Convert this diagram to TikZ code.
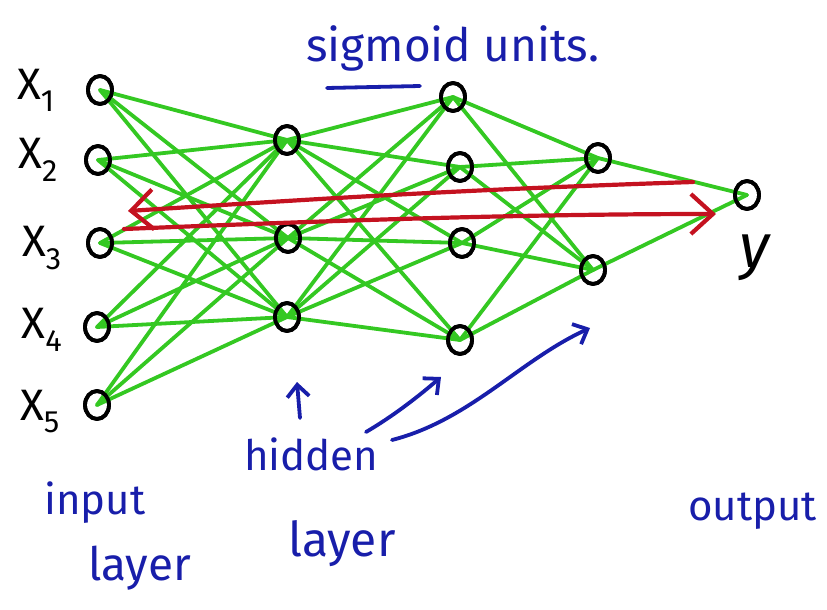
\documentclass[tikz,border=0pt]{standalone}
\usepackage{fontspec}
\setmainfont{Fira Sans}
\usetikzlibrary{arrows.meta,shapes.geometric}
\definecolor{wgreen}{RGB}{52,200,34}
\definecolor{wblue}{RGB}{24,30,170}
\definecolor{wred}{RGB}{196,18,32}
\begin{document}
\begin{tikzpicture}[x=1pt,y=-1pt,
  neuron/.style={draw=black, line width=3.8pt, ellipse, minimum width=24pt, minimum height=28pt, inner sep=0pt},
  conn/.style={draw=wgreen, line width=3.8pt, line cap=round},
  redarr/.style={draw=wred, line width=4.2pt, line cap=round, -{Straight Barb[length=22pt,width=40pt,line width=4.2pt]}},
  bluearr/.style={draw=wblue, line width=3.8pt, line cap=round, -{Straight Barb[length=12pt,width=22pt,line width=3.8pt]}},
  xlbl/.style={text=black, font=\fontsize{44}{46}\selectfont, inner sep=0pt},
  blbl/.style={text=wblue, font=\fontsize{42}{44}\selectfont, inner sep=0pt}]
\useasboundingbox (0,0) rectangle (827,610);
% nodes
\node[neuron] (i1) at (100,90) {};
\node[neuron] (i2) at (98,160) {};
\node[neuron] (i3) at (100,243) {};
\node[neuron] (i4) at (97,327) {};
\node[neuron] (i5) at (97,405) {};
\node[neuron] (a1) at (287,140) {};
\node[neuron] (a2) at (288,238) {};
\node[neuron] (a3) at (287,317) {};
\node[neuron] (b1) at (453,97) {};
\node[neuron] (b2) at (460,167) {};
\node[neuron] (b3) at (462,243) {};
\node[neuron] (b4) at (460,340) {};
\node[neuron] (c1) at (598,158) {};
\node[neuron] (c2) at (593,270) {};
\node[neuron] (o) at (747,195) {};
% connections
\foreach \s in {i1,i2,i3,i4,i5}{\foreach \t in {a1,a2,a3}{\draw[conn] (\s.center) -- (\t.center);}}
\foreach \s in {a1,a2,a3}{\foreach \t in {b1,b2,b3,b4}{\draw[conn] (\s.center) -- (\t.center);}}
\foreach \s in {b1,b2,b3,b4}{\foreach \t in {c1,c2}{\draw[conn] (\s.center) -- (\t.center);}}
\foreach \s in {c1,c2}{\draw[conn] (\s.center) -- (o.center);}
% redraw circles on top
\foreach \n in {i1,i2,i3,i4,i5,a1,a2,a3,b1,b2,b3,b4,c1,c2,o}{\draw[black,line width=3.8pt] (\n) ellipse (12pt and 14pt);}
% red arrows
\coordinate (rt1) at (693,182);
\coordinate (rt2) at (128,211);
\coordinate (rb1) at (124,229);
\coordinate (rb2) at (716,214);
\draw[redarr] (rt1) .. controls (450,190) and (300,200) .. (rt2);
\draw[redarr] (rb1) .. controls (300,222) and (500,214) .. (rb2);
% input labels
\node[xlbl] (l1) at (36,90) {X\textsubscript{1}};
\node[xlbl] (l2) at (38,160) {X\textsubscript{2}};
\node[xlbl] (l3) at (42,248) {X\textsubscript{3}};
\node[xlbl] (l4) at (42,330) {X\textsubscript{4}};
\node[xlbl] (l5) at (40,412) {X\textsubscript{5}};
\node[text=black, font=\fontsize{62}{64}\selectfont\itshape, inner sep=0pt] (yl) at (755,258) {y};
% blue text
\node[blbl, font=\fontsize{46}{48}\selectfont, anchor=base west] (sig) at (306,62) {sigmoid units.};
\coordinate (u1) at (327,88);
\coordinate (u2) at (420,86);
\draw[wblue, line width=3.8pt, line cap=round] (u1) -- (u2);
\node[blbl, anchor=base west] (hid) at (244,470) {hidden};
\node[blbl, font=\fontsize{48}{50}\selectfont, anchor=base west] (hl) at (288,556) {layer};
\node[blbl, anchor=base west] (inp) at (44,514) {input};
\node[blbl, font=\fontsize{46}{48}\selectfont, anchor=base west] (il) at (88,580) {layer};
\node[blbl, anchor=base west] (out) at (688,520) {output};
% blue arrows
\coordinate (h0) at (300,418);
\coordinate (h1) at (297,382);
\draw[bluearr] (h0) -- (h1);
\coordinate (s0) at (366,432);
\coordinate (s1) at (441,377);
\draw[bluearr] (s0) .. controls (395,415) and (420,395) .. (s1);
\coordinate (g0) at (392,440);
\coordinate (g1) at (590,328);
\draw[bluearr] (g0) .. controls (470,420) and (520,360) .. (g1);
\end{tikzpicture}
\end{document}
